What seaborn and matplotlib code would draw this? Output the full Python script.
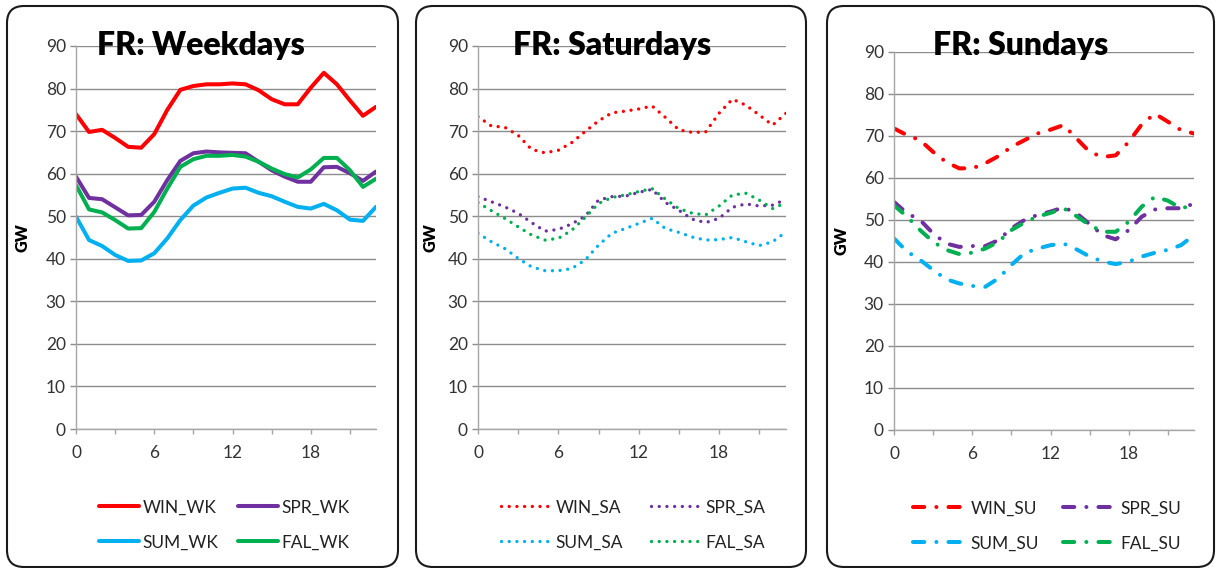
import matplotlib
matplotlib.use("Agg")
import matplotlib.pyplot as plt
from matplotlib.patches import FancyBboxPatch
from matplotlib.transforms import IdentityTransform
from matplotlib.ticker import MultipleLocator
import seaborn as sns
import numpy as np

hours = list(range(24))

win_wk = [74.0, 69.8, 70.3, 68.4, 66.3, 66.1, 69.3, 75.0, 79.7, 80.6, 81.0, 81.0, 81.2, 81.0, 79.6, 77.5, 76.3, 76.3, 80.2, 83.7, 81.0, 77.2, 73.6, 75.7]
spr_wk = [59.3, 54.3, 54.0, 52.1, 50.2, 50.3, 53.4, 58.5, 63.0, 64.8, 65.2, 65.0, 64.9, 64.8, 62.8, 60.8, 59.3, 58.1, 58.1, 61.5, 61.6, 60.1, 58.3, 60.5]
sum_wk = [49.9, 44.4, 43.0, 40.9, 39.5, 39.6, 41.3, 44.8, 49.1, 52.5, 54.4, 55.5, 56.5, 56.7, 55.5, 54.7, 53.4, 52.2, 51.8, 52.9, 51.4, 49.2, 48.9, 52.2]
fal_wk = [57.3, 51.6, 50.9, 49.1, 47.1, 47.2, 51.0, 56.5, 61.6, 63.4, 64.2, 64.2, 64.4, 64.0, 62.8, 61.2, 59.9, 59.1, 61.0, 63.7, 63.7, 60.8, 56.9, 58.8]

win_sa = [73.4, 71.2, 70.9, 69.0, 65.7, 64.9, 65.5, 67.3, 69.9, 72.4, 74.3, 74.7, 75.2, 75.9, 73.2, 70.3, 69.7, 69.8, 74.2, 77.5, 76.1, 73.8, 71.4, 74.2]
spr_sa = [54.6, 53.4, 52.2, 50.7, 48.5, 46.5, 46.9, 48.2, 50.0, 53.8, 54.6, 54.7, 55.6, 56.3, 53.2, 51.4, 49.3, 48.5, 49.5, 52.1, 52.9, 52.4, 52.6, 54.0]
sum_sa = [46.0, 44.0, 42.4, 40.1, 38.1, 37.2, 37.2, 37.7, 39.7, 43.2, 46.0, 47.1, 48.3, 49.5, 47.1, 46.2, 45.1, 44.4, 44.5, 45.0, 44.0, 43.1, 44.0, 46.3]
fal_sa = [53.2, 51.3, 49.5, 47.5, 45.6, 44.4, 44.8, 46.7, 49.7, 53.0, 54.4, 55.0, 55.8, 56.5, 54.0, 51.8, 50.7, 50.3, 52.4, 55.0, 55.4, 53.8, 51.8, 53.2]

win_su = [71.8, 70.2, 69.0, 66.2, 63.8, 62.3, 62.3, 63.5, 65.2, 67.4, 69.0, 70.6, 71.5, 72.6, 69.4, 66.2, 65.0, 65.4, 68.6, 72.8, 75.3, 73.4, 71.4, 70.6]
spr_su = [54.3, 51.6, 50.0, 46.8, 44.4, 43.6, 43.8, 43.8, 45.2, 48.0, 50.0, 51.2, 52.0, 53.0, 51.6, 49.0, 46.4, 45.4, 47.6, 50.8, 52.5, 52.8, 52.8, 53.9]
sum_su = [45.6, 42.5, 40.5, 38.1, 35.9, 34.9, 34.3, 34.1, 36.1, 39.3, 42.1, 43.2, 44.0, 44.4, 43.0, 41.3, 40.1, 39.5, 40.1, 41.3, 42.2, 42.9, 44.0, 46.4]
fal_su = [53.5, 50.8, 47.6, 44.8, 42.9, 41.9, 42.2, 43.2, 44.8, 47.6, 49.4, 50.8, 51.7, 52.8, 50.9, 48.8, 47.2, 47.2, 49.6, 53.2, 55.5, 54.6, 52.8, 53.5]

titles = ["FR: Weekdays", "FR: Saturdays", "FR: Sundays"]
suffixes = ["WK", "SA", "SU"]
seasons = ["WIN", "SPR", "SUM", "FAL"]
colors = ["#FF0000", "#7030A0", "#00B0F0", "#00B050"]
panel_data = [
    [win_wk, spr_wk, sum_wk, fal_wk],
    [win_sa, spr_sa, sum_sa, fal_sa],
    [win_su, spr_su, sum_su, fal_su],
]
y_ticks = list(range(0, 91, 10))
x_major = [0, 6, 12, 18]

sns.set_theme(style="white")
plt.rcParams["font.family"] = ["Lato", "DejaVu Sans"]

W, H = 1216, 568
fig = plt.figure(figsize=(W / 100, H / 100), dpi=100)

# axes rectangles in pixels (left, top, right, bottom)
ax_px = [(76, 46, 376, 429), (478, 46, 786, 429), (894, 52, 1194, 430)]
box_px = [(7, 6, 398, 567), (416, 6, 806, 567), (827, 6, 1214, 567)]
title_px = [(201, 55), (612, 55), (1021, 55)]
ylabel_x = [-0.15, -0.127, -0.147]
# legend: left px, center y px, handlelength, columnspacing
legend_px = [(99, 525, 2.3, 1.15), (501, 525, 2.95, 1.6), (913, 526, 3.1, 1.4)]

styles = [
    dict(linestyle="-", lw=2.9, solid_capstyle="round"),
    dict(linestyle=(0, (0.01, 2.3)), lw=2.4, dash_capstyle="round"),
    dict(linestyle=(0, (2.8, 3.0, 0.01, 3.0)), lw=2.9, dash_capstyle="round"),
]
legend_order = [0, 2, 1, 3]  # column-major fill -> row-major display

for i in range(3):
    l, t, r, b = ax_px[i]
    ax = fig.add_axes([l / W, 1 - b / H, (r - l) / W, (b - t) / H])
    for j in range(4):
        sns.lineplot(x=hours, y=panel_data[i][j], ax=ax, color=colors[j],
                     label=f"{seasons[j]}_{suffixes[i]}", **styles[i])
    ax.set_xlim(0, 23)
    ax.set_ylim(0, 90)
    ax.set_yticks(y_ticks)
    ax.set_xticks(x_major)
    ax.xaxis.set_minor_locator(MultipleLocator(3))
    ax.grid(axis="y", color="#8c8c8c", lw=1.0)
    ax.grid(axis="x", visible=False)
    ax.set_axisbelow(True)
    for s in ["top", "right"]:
        ax.spines[s].set_visible(False)
    for s in ["left", "bottom"]:
        ax.spines[s].set_visible(True)
        ax.spines[s].set_color("#a6a6a6")
        ax.spines[s].set_linewidth(1.0)
    ax.tick_params(axis="y", which="major", left=True, length=4.3, width=1.0,
                   color="#8c8c8c", labelsize=12.5, labelcolor="#333333", pad=3)
    ax.tick_params(axis="x", which="both", bottom=True, length=3.6, width=1.0,
                   color="#a6a6a6", direction="out")
    ax.tick_params(axis="x", which="major", labelsize=12.5, labelcolor="#333333", pad=8)
    ax.set_xlabel("")
    ax.set_ylabel("GW", fontsize=11.5, fontweight="heavy", color="black")
    ax.yaxis.set_label_coords(ylabel_x[i], 0.5)
    ax.patch.set_alpha(0)

    handles, labels = ax.get_legend_handles_labels()
    handles = [handles[k] for k in legend_order]
    labels = [labels[k] for k in legend_order]
    lx, ly, hl, cs = legend_px[i]
    leg = ax.legend(handles, labels, loc="center left",
                    bbox_to_anchor=(lx / W, 1 - ly / H),
                    bbox_transform=fig.transFigure, ncol=2, frameon=False,
                    fontsize=12.5, handlelength=hl, handletextpad=0.2,
                    columnspacing=cs, labelspacing=1.1, borderpad=0,
                    borderaxespad=0)
    for txt in leg.get_texts():
        txt.set_color("#222222")

    tx, ty = title_px[i]
    fig.text(tx / W, 1 - ty / H, titles[i], ha="center", va="baseline",
             fontsize=23, fontweight="heavy", color="black")

    x0, y0, x1, y1 = box_px[i]
    box = FancyBboxPatch((x0, H - y1), x1 - x0, y1 - y0,
                         boxstyle="round,pad=0,rounding_size=17",
                         transform=IdentityTransform(), fill=False,
                         edgecolor="#1a1a1a", lw=1.5)
    fig.patches.append(box)

fig.savefig("out.png", dpi=100)
